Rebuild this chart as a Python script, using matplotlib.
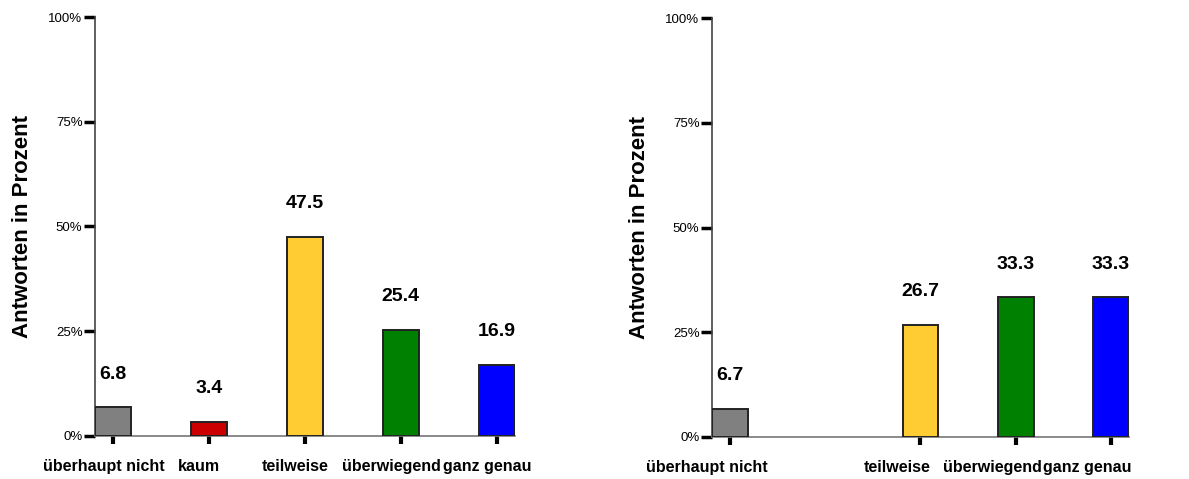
import matplotlib
matplotlib.use("Agg")
import matplotlib.pyplot as plt
from matplotlib.ticker import FuncFormatter

plt.rcParams['font.family'] = ['Liberation Sans', 'DejaVu Sans']

# Data
left_categories = ['überhaupt nicht', 'kaum', 'teilweise', 'überwiegend', 'ganz genau']
left_values = [6.8, 3.4, 47.5, 25.4, 16.9]

right_categories = ['überhaupt nicht', 'teilweise', 'überwiegend', 'ganz genau']
right_positions = [0, 2, 3, 4]  # 'kaum' slot left empty
right_values = [6.7, 26.7, 33.3, 33.3]

left_colors = ['#808080', '#CC0000', '#FFCC33', '#008000', '#0000FF']
right_colors = ['#808080', '#FFCC33', '#008000', '#0000FF']

y_ticks = [0, 25, 50, 75, 100]
y_label = 'Antworten in Prozent'


def draw_panel(ax, positions, values, labels, colors, label_shift):
    bars = ax.bar(positions, values, width=0.375, color=colors,
                  edgecolor='#222222', linewidth=1.4, zorder=3)
    for bar, v in zip(bars, values):
        ax.annotate(f'{v:.1f}', (bar.get_x() + bar.get_width() / 2, v),
                    xytext=(0, 24), textcoords='offset points',
                    ha='center', va='center', fontsize=14, fontweight='bold')
    ax.set_xlim(-0.19, 4.19)
    ax.set_ylim(0, 100)
    ax.set_yticks(y_ticks)
    ax.yaxis.set_major_formatter(FuncFormatter(lambda v, p: f'{v:.0f}%'))
    ax.set_xticks(positions)
    ax.set_xticklabels([])
    # category labels sit a bit left of their ticks in the original
    for x, lab in zip(positions, labels):
        ax.annotate(lab, (x, 0), xycoords=('data', 'axes fraction'),
                    xytext=(label_shift, -22), textcoords='offset points',
                    ha='center', va='center', fontsize=11.5, fontweight='bold',
                    annotation_clip=False)
    ax.tick_params(axis='y', length=8, width=2.5, labelsize=9.5, pad=1, color='black')
    ax.tick_params(axis='x', length=6, width=3, color='black')
    for s in ['top', 'right']:
        ax.spines[s].set_visible(False)
    ax.spines['left'].set_color('#444444')
    ax.spines['bottom'].set_color('#777777')
    ax.spines['left'].set_linewidth(1.2)
    ax.spines['bottom'].set_linewidth(1.2)
    ax.set_ylabel(y_label, fontsize=16, fontweight='bold', labelpad=11)


fig = plt.figure(figsize=(11.89, 4.79), dpi=100)
ax1 = fig.add_axes([0.0799, 0.0898, 0.3532, 0.8747])
ax2 = fig.add_axes([0.5988, 0.0877, 0.3507, 0.8747])

draw_panel(ax1, list(range(len(left_values))), left_values, left_categories,
           left_colors, -7)
draw_panel(ax2, right_positions, right_values, right_categories,
           right_colors, -17)

fig.savefig('out.png', dpi=100)
